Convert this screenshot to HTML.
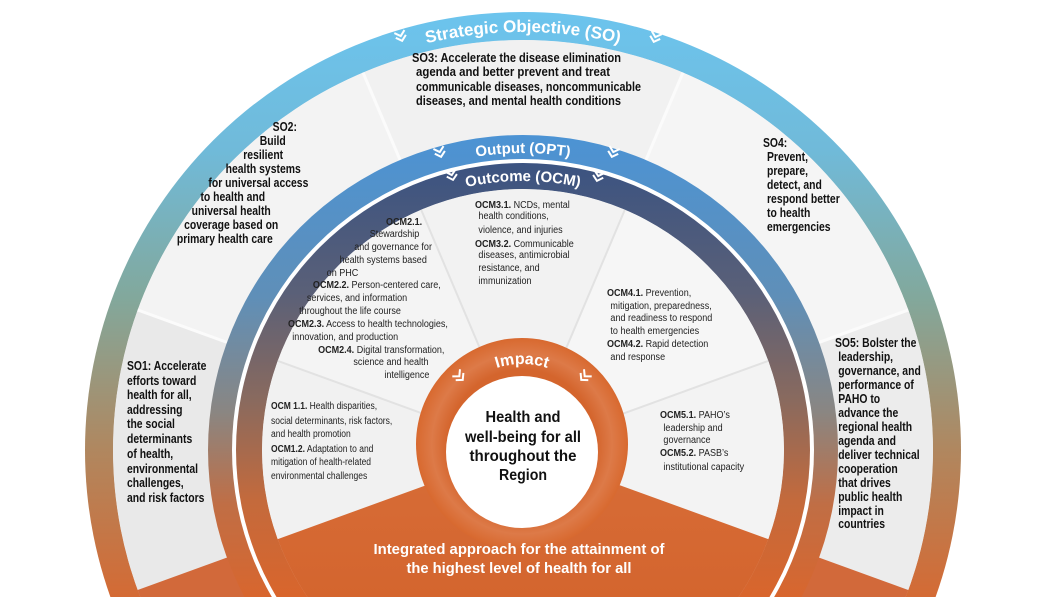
<!DOCTYPE html>
<html><head><meta charset="utf-8">
<style>
html,body{margin:0;padding:0;background:#fff;width:1047px;height:599px;overflow:hidden;}
svg{display:block;}
text{font-family:"Liberation Sans",sans-serif;}
</style></head>
<body>
<svg width="1047" height="599" viewBox="0 0 1047 599" xmlns="http://www.w3.org/2000/svg">
<defs>
  <clipPath id="page"><rect x="0" y="0" width="1047" height="597"/></clipPath>
  <clipPath id="c410"><circle cx="523" cy="450" r="410"/></clipPath>
  <clipPath id="c261"><circle cx="523" cy="450" r="261"/></clipPath>
  <linearGradient id="gSO" gradientUnits="userSpaceOnUse" x1="0" y1="10" x2="0" y2="597">
    <stop offset="0" stop-color="#6cc4ee"/>
    <stop offset="0.24" stop-color="#70bad9"/>
    <stop offset="0.49" stop-color="#82a89c"/>
    <stop offset="0.75" stop-color="#b0875f"/>
    <stop offset="1" stop-color="#d46a34"/>
  </linearGradient>
  <linearGradient id="gOut" gradientUnits="userSpaceOnUse" x1="0" y1="135" x2="0" y2="597">
    <stop offset="0" stop-color="#4c93d4"/>
    <stop offset="0.35" stop-color="#5f8fb8"/>
    <stop offset="0.6" stop-color="#8a8682"/>
    <stop offset="0.8" stop-color="#c06e45"/>
    <stop offset="1" stop-color="#d8662e"/>
  </linearGradient>
  <linearGradient id="gOcm" gradientUnits="userSpaceOnUse" x1="0" y1="162" x2="0" y2="597">
    <stop offset="0" stop-color="#3b5381"/>
    <stop offset="0.3" stop-color="#5a6078"/>
    <stop offset="0.55" stop-color="#8a6a5e"/>
    <stop offset="0.78" stop-color="#c46a3c"/>
    <stop offset="1" stop-color="#d9652c"/>
  </linearGradient>
  <radialGradient id="gImp" cx="522" cy="444" r="106" gradientUnits="userSpaceOnUse">
    <stop offset="0.7" stop-color="#d4652d"/>
    <stop offset="0.85" stop-color="#dd7a48"/>
    <stop offset="1" stop-color="#d8692f"/>
  </radialGradient>
  <linearGradient id="gBot" gradientUnits="userSpaceOnUse" x1="0" y1="450" x2="0" y2="597">
    <stop offset="0" stop-color="#d76d38"/>
    <stop offset="1" stop-color="#d4652e"/>
  </linearGradient>
  <path id="arcSO" d="M105,450 A418,418 0 0 1 941,450"/>
  <path id="arcOut" d="M226,450 A297,297 0 0 1 820,450"/>
  <path id="arcOcm" d="M254,450 A269,269 0 0 1 792,450"/>
  <path id="arcImp" d="M440,446 A82,82 0 0 1 604,446"/>
  <path id="chev" d="M-4.5,-5 L0,-1 L4.5,-5 M-4.5,0 L0,4 L4.5,0" fill="none" stroke="#fff" stroke-width="2" stroke-linecap="square"/>
</defs>

<g clip-path="url(#page)">
  <circle cx="523" cy="450" r="438" fill="url(#gSO)"/>
  <g clip-path="url(#c410)">
    <circle cx="523" cy="450" r="410" fill="#ededed"/>
    <path d="M523,450 L1087,245 L757,-102 Z" fill="#f5f5f5"/>
    <path d="M523,450 L757,-102 L289,-102 Z" fill="#f1f1f1"/>
    <path d="M523,450 L289,-102 L-41,245 Z" fill="#f3f3f3"/>
    <path d="M523,450 L-41,245 L-41,655 Z" fill="#e9e9e9"/>
    <path d="M523,450 L1087,655 L1087,245 Z" fill="#ececec"/>
    <g stroke="#fbfbfb" stroke-width="3">
      <line x1="523" y1="450" x2="1087" y2="245"/>
      <line x1="523" y1="450" x2="757" y2="-102"/>
      <line x1="523" y1="450" x2="289" y2="-102"/>
      <line x1="523" y1="450" x2="-41" y2="245"/>
    </g>
    <path d="M523,450 L-41,655 L1087,655 Z" fill="#d2693a"/>
  </g>
  <circle cx="523" cy="450" r="315" fill="url(#gOut)"/>
  <circle cx="523" cy="450" r="291" fill="#ffffff"/>
  <circle cx="523" cy="450" r="287" fill="url(#gOcm)"/>
  <g clip-path="url(#c261)">
    <circle cx="523" cy="450" r="261" fill="#efefef"/>
    <path d="M523,450 L1087,245 L757,-102 Z" fill="#f6f6f6"/>
    <path d="M523,450 L757,-102 L289,-102 Z" fill="#f2f2f2"/>
    <path d="M523,450 L289,-102 L-41,245 Z" fill="#f4f4f4"/>
    <path d="M523,450 L-41,245 L-41,655 Z" fill="#f1f1f1"/>
    <path d="M523,450 L1087,655 L1087,245 Z" fill="#f3f3f3"/>
    <g stroke="#e2e2e2" stroke-width="2">
      <line x1="523" y1="450" x2="1087" y2="245"/>
      <line x1="523" y1="450" x2="757" y2="-102"/>
      <line x1="523" y1="450" x2="289" y2="-102"/>
      <line x1="523" y1="450" x2="-41" y2="245"/>
    </g>
    <path d="M523,450 L-41,655 L1087,655 Z" fill="url(#gBot)"/>
  </g>
  <circle cx="522" cy="444" r="106" fill="url(#gImp)"/>
  <circle cx="522" cy="452" r="76" fill="#ffffff"/>
</g>

<text font-size="17" font-weight="bold" fill="#fff"><textPath href="#arcSO" startOffset="50%" text-anchor="middle">Strategic Objective (SO)</textPath></text>
<text font-size="15" font-weight="bold" fill="#fff"><textPath href="#arcOut" startOffset="50%" text-anchor="middle">Output (OPT)</textPath></text>
<text font-size="15" font-weight="bold" fill="#fff"><textPath href="#arcOcm" startOffset="50%" text-anchor="middle">Outcome (OCM)</textPath></text>
<text font-size="16" font-weight="bold" fill="#fff"><textPath href="#arcImp" startOffset="50%" text-anchor="middle">Impact</textPath></text>

<use href="#chev" transform="translate(401,37) rotate(-16.5)"/>
<use href="#chev" transform="translate(655,38) rotate(17.8)"/>
<use href="#chev" transform="translate(440,153) rotate(-15.6)"/>
<use href="#chev" transform="translate(613,153) rotate(16.8)"/>
<use href="#chev" transform="translate(452,176) rotate(-14.5)"/>
<use href="#chev" transform="translate(598,177) rotate(15.3)"/>
<use href="#chev" transform="translate(460,377) rotate(-43)"/>
<use href="#chev" transform="translate(584,377) rotate(43)"/>

<g font-size="13" font-weight="bold" fill="#111">
  <text x="412" y="62" textLength="209" lengthAdjust="spacingAndGlyphs">SO3: Accelerate the disease elimination</text>
  <text x="416" y="76" textLength="194" lengthAdjust="spacingAndGlyphs">agenda and better prevent and treat</text>
  <text x="416" y="91" textLength="225" lengthAdjust="spacingAndGlyphs">communicable diseases, noncommunicable</text>
  <text x="416" y="105" textLength="205" lengthAdjust="spacingAndGlyphs">diseases, and mental health conditions</text>
</g>

<g transform="scale(0.8,1)" font-size="13" font-weight="bold" fill="#111" text-anchor="middle">
  <text x="356" y="131">SO2:</text>
  <text x="341" y="145">Build</text>
  <text x="329" y="159">resilient</text>
  <text x="329" y="173">health systems</text>
  <text x="323" y="187">for universal access</text>
  <text x="291" y="201">to health and</text>
  <text x="289" y="215">universal health</text>
  <text x="289" y="229">coverage based on</text>
  <text x="281" y="243">primary health care</text>
</g>

<g transform="translate(127,0) scale(0.8,1)" font-size="13" font-weight="bold" fill="#111">
  <text x="0" y="370">SO1: Accelerate</text>
  <text x="0" y="385">efforts toward</text>
  <text x="0" y="399">health for all,</text>
  <text x="0" y="414">addressing</text>
  <text x="0" y="428">the social</text>
  <text x="0" y="443">determinants</text>
  <text x="0" y="458">of health,</text>
  <text x="0" y="473">environmental</text>
  <text x="0" y="487">challenges,</text>
  <text x="0" y="502">and risk factors</text>
</g>

<g transform="translate(763,0) scale(0.8,1)" font-size="13" font-weight="bold" fill="#111">
  <text x="0" y="147">SO4:</text>
  <text x="5" y="161">Prevent,</text>
  <text x="5" y="175">prepare,</text>
  <text x="5" y="189">detect, and</text>
  <text x="5" y="203">respond better</text>
  <text x="5" y="217">to health</text>
  <text x="5" y="231">emergencies</text>
</g>

<g transform="translate(835,0) scale(0.8,1)" font-size="13" font-weight="bold" fill="#111">
  <text x="0" y="347">SO5: Bolster the</text>
  <text x="4" y="361">leadership,</text>
  <text x="4" y="375">governance, and</text>
  <text x="4" y="389">performance of</text>
  <text x="4" y="403">PAHO to</text>
  <text x="4" y="417">advance the</text>
  <text x="4" y="431">regional health</text>
  <text x="4" y="445">agenda and</text>
  <text x="4" y="459">deliver technical</text>
  <text x="4" y="473">cooperation</text>
  <text x="4" y="487">that drives</text>
  <text x="4" y="501">public health</text>
  <text x="4" y="515">impact in</text>
  <text x="4" y="528">countries</text>
</g>

<g transform="translate(288,0) scale(0.86,1)" font-size="10.5" fill="#222">
  <text x="114" y="225" font-weight="bold">OCM2.1.</text>
  <text x="95" y="237">Stewardship</text>
  <text x="77" y="250">and governance for</text>
  <text x="60" y="263">health systems based</text>
  <text x="45" y="276">on PHC</text>
  <text x="29" y="288"><tspan font-weight="bold">OCM2.2.</tspan> Person-centered care,</text>
  <text x="22" y="301">services, and information</text>
  <text x="13" y="314">throughout the life course</text>
  <text x="0" y="327"><tspan font-weight="bold">OCM2.3.</tspan> Access to health technologies,</text>
  <text x="5" y="340">innovation, and production</text>
  <text x="35" y="353"><tspan font-weight="bold">OCM2.4.</tspan> Digital transformation,</text>
  <text x="76" y="365">science and health</text>
  <text x="112" y="378">intelligence</text>
</g>

<g transform="translate(475,0) scale(0.86,1)" font-size="10.5" fill="#222">
  <text x="0" y="208"><tspan font-weight="bold">OCM3.1.</tspan> NCDs, mental</text>
  <text x="4" y="219">health conditions,</text>
  <text x="4" y="233">violence, and injuries</text>
  <text x="0" y="247"><tspan font-weight="bold">OCM3.2.</tspan> Communicable</text>
  <text x="4" y="258">diseases, antimicrobial</text>
  <text x="4" y="271">resistance, and</text>
  <text x="4" y="284">immunization</text>
</g>

<g transform="translate(607,0) scale(0.86,1)" font-size="10.5" fill="#222">
  <text x="0" y="296"><tspan font-weight="bold">OCM4.1.</tspan> Prevention,</text>
  <text x="4" y="309">mitigation, preparedness,</text>
  <text x="4" y="321">and readiness to respond</text>
  <text x="4" y="334">to health emergencies</text>
  <text x="0" y="347"><tspan font-weight="bold">OCM4.2.</tspan> Rapid detection</text>
  <text x="4" y="360">and response</text>
</g>

<g transform="translate(660,0) scale(0.86,1)" font-size="10.5" fill="#222">
  <text x="0" y="418"><tspan font-weight="bold">OCM5.1.</tspan> PAHO’s</text>
  <text x="4" y="431">leadership and</text>
  <text x="4" y="443">governance</text>
  <text x="0" y="456"><tspan font-weight="bold">OCM5.2.</tspan> PASB’s</text>
  <text x="4" y="470">institutional capacity</text>
</g>

<g transform="translate(271,0) scale(0.85,1)" font-size="10" fill="#222">
  <text x="0" y="409"><tspan font-weight="bold">OCM 1.1.</tspan>  Health disparities,</text>
  <text x="0" y="424">social determinants, risk factors,</text>
  <text x="0" y="437">and health promotion</text>
  <text x="0" y="452"><tspan font-weight="bold">OCM1.2.</tspan> Adaptation to and</text>
  <text x="0" y="465">mitigation of health-related</text>
  <text x="0" y="479">environmental challenges</text>
</g>

<g font-size="16" font-weight="bold" fill="#111" text-anchor="middle">
  <text x="523" y="422" textLength="75" lengthAdjust="spacingAndGlyphs">Health and</text>
  <text x="523" y="442" textLength="116" lengthAdjust="spacingAndGlyphs">well-being for all</text>
  <text x="523" y="461" textLength="107" lengthAdjust="spacingAndGlyphs">throughout the</text>
  <text x="523" y="480" textLength="48" lengthAdjust="spacingAndGlyphs">Region</text>
</g>

<g font-size="15" font-weight="bold" fill="#fff" text-anchor="middle">
  <text x="519" y="554" textLength="291" lengthAdjust="spacingAndGlyphs">Integrated approach for the attainment of</text>
  <text x="519" y="573" textLength="225" lengthAdjust="spacingAndGlyphs">the highest level of health for all</text>
</g>
</svg>
</body></html>
